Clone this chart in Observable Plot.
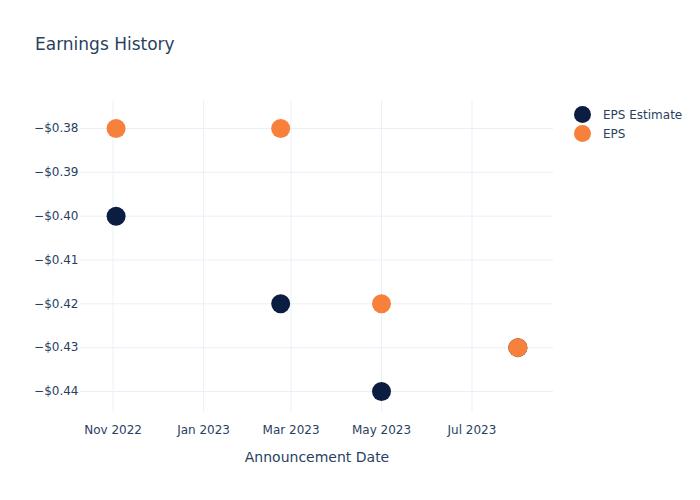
<!DOCTYPE html>
<html>
<head>
<meta charset="utf-8">
<script src="https://cdn.jsdelivr.net/npm/d3@7"></script>
<script src="https://cdn.jsdelivr.net/npm/@observablehq/plot@0.6"></script>
<style>
  body { margin: 0; background: #fff; font-family: "DejaVu Sans", sans-serif; }
  #wrap { position: relative; width: 700px; height: 500px; }
  #title { position: absolute; left: 35px; top: 34px; font-size: 17px; color: #2a3f5f; }
  #legend { position: absolute; left: 574px; top: 105px; font-size: 12px; color: #2a3f5f; }
  .li { display: flex; align-items: center; height: 19px; }
  .sw { width: 17px; height: 17px; border-radius: 50%; margin-right: 12px; }
</style>
</head>
<body>
<div id="wrap">
  <div id="chart"></div>
  <div id="title">Earnings History</div>
  <div id="legend"></div>
</div>
<script>
const dates = ["2022-11-03", "2023-02-22", "2023-05-01", "2023-08-01"];
const epsEstimate = [-0.40, -0.42, -0.44, -0.43];
const eps = [-0.38, -0.38, -0.42, -0.43];
const seriesNames = ["EPS Estimate", "EPS"];
const seriesColors = ["#0b1d40", "#f7803a"];
const xTicks = ["2022-11-01", "2023-01-01", "2023-03-01", "2023-05-01", "2023-07-01"];
const yTicks = [-0.38, -0.39, -0.40, -0.41, -0.42, -0.43, -0.44];

const parse = d3.utcParse("%Y-%m-%d");
const rows = [];
dates.forEach((d, i) => rows.push({date: parse(d), value: epsEstimate[i], series: seriesNames[0]}));
dates.forEach((d, i) => rows.push({date: parse(d), value: eps[i], series: seriesNames[1]}));

const fmtY = v => (v < 0 ? "\u2212" : "") + "$" + Math.abs(v).toFixed(2);
const fmtX = d3.utcFormat("%b %Y");

const chart = Plot.plot({
  width: 700,
  height: 500,
  marginLeft: 80,
  marginRight: 147,
  marginTop: 100,
  marginBottom: 88,
  style: {fontFamily: "DejaVu Sans, sans-serif", fontSize: "12px", color: "#2a3f5f", background: "#fff"},
  x: {type: "utc", domain: [parse("2022-10-10"), parse("2023-08-25")]},
  y: {domain: [-0.4448, -0.3736]},
  color: {domain: seriesNames, range: seriesColors},
  marks: [
    Plot.gridX(xTicks.map(parse), {stroke: "#ebf0f8", strokeOpacity: 1}),
    Plot.gridY(yTicks, {stroke: "#ebf0f8", strokeOpacity: 1}),
    Plot.axisX(xTicks.map(parse), {tickFormat: fmtX, tickSize: 0, tickPadding: 13, fontSize: 12, fill: "#2a3f5f", label: null}),
    Plot.axisY(yTicks, {tickFormat: fmtY, tickSize: 0, tickPadding: 2, fontSize: 12, fill: "#2a3f5f", label: null}),
    Plot.text(["Announcement Date"], {frameAnchor: "bottom", dy: 49, fontSize: 14, fill: "#2a3f5f"}),
    Plot.dot(rows, {x: "date", y: "value", fill: "series", r: 9.5, stroke: "none"})
  ]
});
document.getElementById("chart").appendChild(chart);

const leg = document.getElementById("legend");
seriesNames.forEach((n, i) => {
  const li = document.createElement("div");
  li.className = "li";
  li.innerHTML = `<div class="sw" style="background:${seriesColors[i]}"></div><span>${n}</span>`;
  leg.appendChild(li);
});
</script>
</body>
</html>
